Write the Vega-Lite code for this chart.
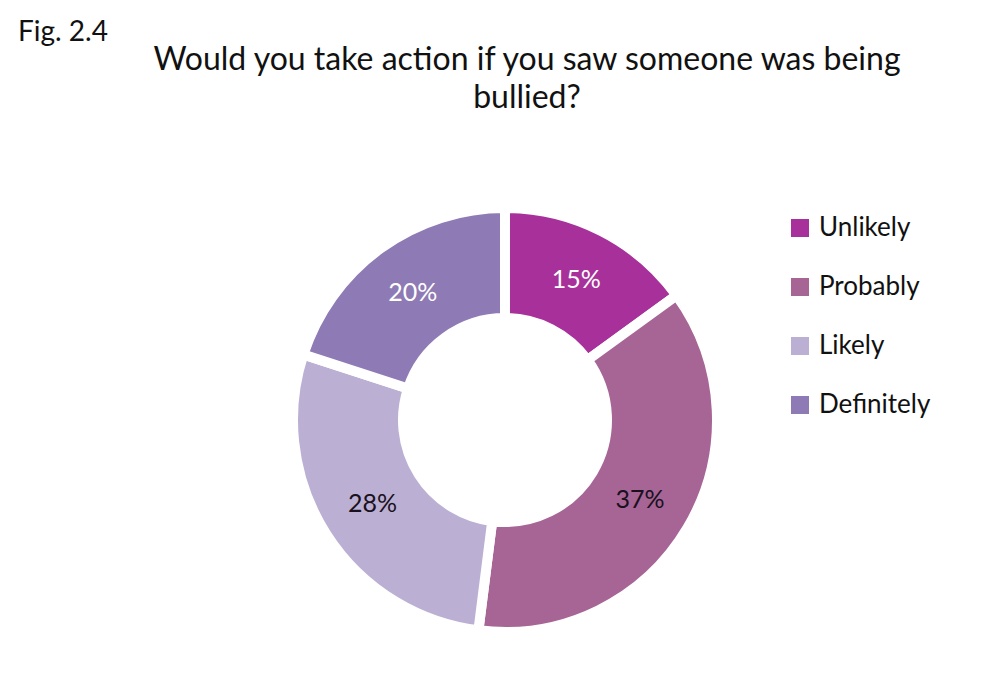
{
  "$schema": "https://vega.github.io/schema/vega-lite/v6.json",
  "padding": {"left": 18, "top": 19, "right": 0, "bottom": 0},
  "background": "white",
  "title": {
    "text": "Fig. 2.4",
    "anchor": "start",
    "frame": "group",
    "font": "Lato",
    "fontSize": 28,
    "fontWeight": "normal",
    "color": "#111111",
    "offset": -3
  },
  "vconcat": [
    {
      "width": 974,
      "height": 518,
      "title": {
        "text": ["Would you take action if you saw someone was being", "bullied?"],
        "anchor": "middle",
        "frame": "group",
        "font": "Lato",
        "fontSize": 32,
        "lineHeight": 38,
        "fontWeight": "normal",
        "color": "#111111",
        "dx": 22,
        "offset": 46
      },
      "data": {
        "values": [
          {"category": "Unlikely", "share": 0.15, "rank": 1},
          {"category": "Probably", "share": 0.37, "rank": 2},
          {"category": "Likely", "share": 0.28, "rank": 3},
          {"category": "Definitely", "share": 0.20, "rank": 4}
        ]
      },
      "encoding": {
        "theta": {"field": "share", "type": "quantitative", "stack": true},
        "order": {"field": "rank", "type": "quantitative"}
      },
      "layer": [
        {
          "mark": {"type": "arc", "outerRadius": 212, "innerRadius": 102, "stroke": "white", "strokeWidth": 10},
          "encoding": {
            "color": {
              "field": "category",
              "type": "nominal",
              "sort": ["Unlikely", "Probably", "Likely", "Definitely"],
              "scale": {
                "domain": ["Unlikely", "Probably", "Likely", "Definitely"],
                "range": ["#A8309A", "#A66595", "#BBB0D3", "#8E7AB4"]
              },
              "legend": {
                "orient": "none",
                "legendX": 769,
                "legendY": 54,
                "title": null,
                "padding": 0,
                "symbolType": "square",
                "symbolSize": 324,
                "symbolStrokeWidth": 0,
                "labelFont": "Lato",
                "labelFontSize": 26,
                "labelColor": "#111111",
                "labelOffset": 6,
                "rowPadding": 33
              }
            }
          }
        },
        {
          "mark": {"type": "text", "radius": 157, "font": "Lato", "fontSize": 25},
          "encoding": {
            "text": {"field": "share", "type": "quantitative", "format": ".0%"},
            "color": {
              "condition": {"test": "datum.category === 'Unlikely' || datum.category === 'Definitely'", "value": "#FFFFFF"},
              "value": "#1a1020"
            }
          }
        }
      ]
    }
  ],
  "config": {"view": {"stroke": null}}
}
